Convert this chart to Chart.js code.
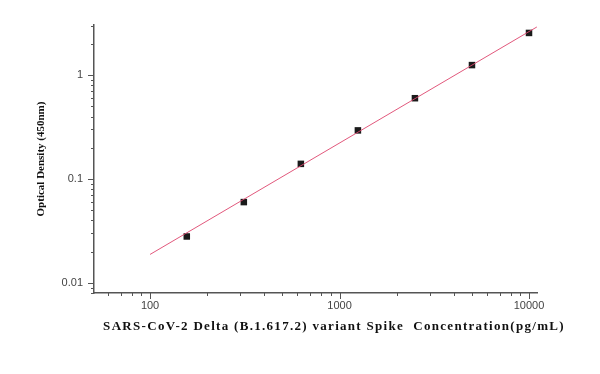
<!DOCTYPE html>
<html>
<head>
<meta charset="utf-8">
<script src="https://cdn.jsdelivr.net/npm/chart.js@4"></script>
<style>
    html, body {margin: 0; padding: 0; background: #fff;}
    #wrap {width: 600px; height: 374px;}
</style>
</head>
<body>
<div id="wrap"><canvas id="plot1" width="600" height="374"></canvas></div>
<script>
// standard curve points (pg/mL vs OD450)
const concentration = [156.25, 312.5, 625, 1250, 2500, 5000, 10000];
const opticalDensity = [0.028, 0.060, 0.140, 0.294, 0.600, 1.25, 2.55];

// fitted line end points
const fitX = [100, 11000];
const fitY = [0.0188, 2.91];

const xTickLabels = [100, 1000, 10000];
const yTickLabels = [0.01, 0.1, 1];

const xTitle = 'SARS-CoV-2 Delta (B.1.617.2) variant Spike  Concentration(pg/mL)';

// log ticks 1..9 of each decade inside a range
function logTicks(min, max) {
    let out = [];
    for (let p = Math.floor(Math.log10(min)); p <= Math.ceil(Math.log10(max)); p++) {
        for (let m = 1; m < 10; m++) {
            let v = m * Math.pow(10, p);
            if (v >= min && v <= max) out.push({value: v});
        }
    }
    return out;
}

// tick marks: long for decades, short for the rest; plus spaced x title
const tickMarks = {
    id: 'tickMarks',
    afterDraw(chart) {
        const ctx = chart.ctx;
        const xs = chart.scales.x, ys = chart.scales.y;
        ctx.save();
        ctx.strokeStyle = '#555';
        ctx.lineWidth = 1;
        xs.ticks.forEach(t => {
            let px = Math.round(xs.getPixelForValue(t.value)) + 0.5;
            let len = xTickLabels.includes(t.value) ? 6 : 3;
            ctx.beginPath();
            ctx.moveTo(px, xs.top);
            ctx.lineTo(px, xs.top + len);
            ctx.stroke();
        });
        ys.ticks.forEach(t => {
            let py = Math.round(ys.getPixelForValue(t.value)) + 0.5;
            let len = yTickLabels.includes(t.value) ? 6 : 3;
            ctx.beginPath();
            ctx.moveTo(ys.right, py);
            ctx.lineTo(ys.right - len, py);
            ctx.stroke();
        });
        ctx.fillStyle = '#111';
        ctx.font = 'bold 13px "Liberation Serif"';
        ctx.letterSpacing = '1.3px';
        ctx.textAlign = 'center';
        ctx.textBaseline = 'middle';
        ctx.fillText(xTitle, 334, 327);
        ctx.restore();
    }
};

const ctx = document.getElementById("plot1").getContext("2d");

const curveChart = new Chart(ctx, {
    type: 'scatter',
    data: {
        datasets: [{
            type: 'line',
            data: fitX.map((x, i) => ({x: x, y: fitY[i]})),
            borderColor: 'rgba(222,70,110,0.9)',
            borderWidth: 1,
            pointRadius: 0,
            fill: false,
            order: 0
        }, {
            data: concentration.map((x, i) => ({x: x, y: opticalDensity[i]})),
            pointStyle: 'rect',
            pointRadius: 4.6,
            backgroundColor: '#1a1a1a',
            borderColor: '#1a1a1a',
            borderWidth: 0,
            order: 1
        }]
    },
    options: {
        responsive: false,
        animation: false,
        layout: {padding: {left: 0, right: 63, top: 25, bottom: 0}},
        plugins: {legend: {display: false}, tooltip: {enabled: false}},
        scales: {
            x: {
                type: 'logarithmic',
                min: 50.6,
                max: 11020,
                afterBuildTicks: (s) => { s.ticks = logTicks(60, 11000); },
                afterFit: (s) => { s.height = 81; },
                grid: {display: false, drawTicks: false},
                border: {display: true, color: '#555', width: 1.5},
                ticks: {
                    autoSkip: false,
                    maxRotation: 0,
                    padding: 6,
                    color: '#444',
                    font: {family: 'Liberation Sans', size: 11},
                    callback: (v) => xTickLabels.includes(v) ? String(v) : ''
                },
                title: {display: false}
            },
            y: {
                type: 'logarithmic',
                min: 0.008,
                max: 3.04,
                afterBuildTicks: (s) => { s.ticks = logTicks(0.008, 3.0); },
                afterFit: (s) => { s.width = 94; },
                grid: {display: false, drawTicks: false},
                border: {display: true, color: '#555', width: 1.5},
                ticks: {
                    autoSkip: false,
                    padding: 11,
                    color: '#444',
                    font: {family: 'Liberation Sans', size: 11},
                    callback: (v) => yTickLabels.includes(v) ? String(v) : ''
                },
                title: {
                    display: true,
                    text: 'Optical Density (450nm)',
                    color: '#111',
                    font: {family: 'Liberation Serif', size: 11, weight: 'bold'},
                    padding: {top: 35, bottom: 0}
                }
            }
        }
    },
    plugins: [tickMarks]
});
</script>
</body>
</html>
